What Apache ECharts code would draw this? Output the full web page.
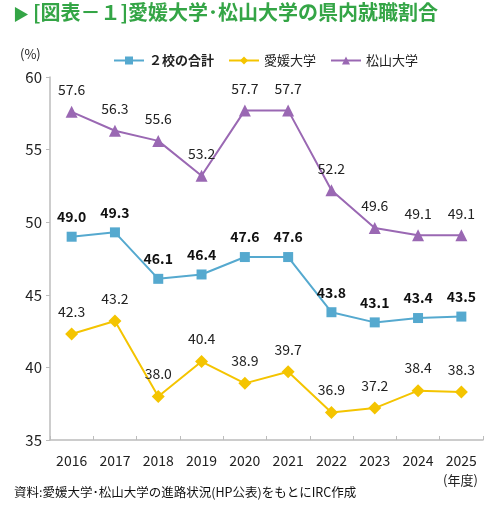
<!DOCTYPE html>
<html>
<head>
<meta charset="utf-8">
<script src="https://cdn.jsdelivr.net/npm/echarts@6/dist/echarts.min.js"></script>
<style>
  html, body { margin: 0; padding: 0; background: #fff; }
  #chart { width: 500px; height: 507px; }
</style>
</head>
<body>
<div id="chart"></div>
<script>
// 年度
var years = ['2016', '2017', '2018', '2019', '2020', '2021', '2022', '2023', '2024', '2025'];
// 県内就職割合 (%)
var totalVals = [49.0, 49.3, 46.1, 46.4, 47.6, 47.6, 43.8, 43.1, 43.4, 43.5];
var ehimeVals = [42.3, 43.2, 38.0, 40.4, 38.9, 39.7, 36.9, 37.2, 38.4, 38.3];
var matsuyamaVals = [57.6, 56.3, 55.6, 53.2, 57.7, 57.7, 52.2, 49.6, 49.1, 49.1];
var seriesNames = ['２校の合計', '愛媛大学', '松山大学'];

var FONT = '"Noto Sans CJK JP", "Noto Sans", sans-serif';
var chart = echarts.init(document.getElementById('chart'));

function fmt(p) { return p.value.toFixed(1); }

var option = {
    animation: false,
    textStyle: { fontFamily: FONT },
    grid: { left: 50, right: 17, top: 77, bottom: 67 },
    legend: {
        top: 49,
        left: 108,
        itemWidth: 30,
        itemHeight: 10,
        itemGap: 14,
        textStyle: { fontFamily: FONT, fontSize: 13, color: '#222' },
        data: [
            { name: seriesNames[0], textStyle: { fontWeight: 'bold' } },
            { name: seriesNames[1] },
            { name: seriesNames[2] }
        ]
    },
    graphic: [
        { type: 'text', left: 13, top: 6, style: { text: '▶', fill: '#34a546', font: '16px ' + FONT } },
        { type: 'text', left: 33, top: 2, style: { text: '[図表－１]愛媛大学･松山大学の県内就職割合', fill: '#34a546', font: 'bold 20px ' + FONT } },
        { type: 'text', left: 20, top: 48, style: { text: '(%)', fill: '#222', font: '13px ' + FONT } },
        { type: 'text', left: 443, top: 474, style: { text: '(年度)', fill: '#222', font: '13px ' + FONT } },
        { type: 'text', left: 14, top: 486, style: { text: '資料:愛媛大学･松山大学の進路状況(HP公表)をもとにIRC作成', fill: '#111', font: '12.5px ' + FONT } }
    ],
    xAxis: {
        type: 'category',
        data: years,
        boundaryGap: true,
        axisLine: { lineStyle: { color: '#bcbcbc', width: 1.5 } },
        axisTick: { show: true, inside: true, length: 4, alignWithLabel: false, lineStyle: { color: '#bcbcbc' } },
        axisLabel: { fontFamily: FONT, fontSize: 14, color: '#222', margin: 14 }
    },
    yAxis: {
        type: 'value',
        min: 35,
        max: 60,
        interval: 5,
        axisLine: { show: true, lineStyle: { color: '#bcbcbc', width: 1.5 } },
        axisTick: { show: true, length: 4, lineStyle: { color: '#bcbcbc' } },
        splitLine: { show: false },
        axisLabel: { fontFamily: FONT, fontSize: 15, color: '#222', margin: 8 }
    },
    series: [
        {
            name: seriesNames[0],
            type: 'line',
            data: totalVals,
            color: '#55a9cf',
            symbol: 'rect',
            symbolSize: 10,
            lineStyle: { width: 2 },
            label: { show: true, position: 'top', distance: 8, formatter: fmt, fontFamily: FONT, fontSize: 14, fontWeight: 'bold', color: '#111' }
        },
        {
            name: seriesNames[1],
            type: 'line',
            data: ehimeVals,
            color: '#f4c400',
            symbol: 'diamond',
            symbolSize: 13,
            lineStyle: { width: 2 },
            label: { show: true, position: 'top', distance: 9, formatter: fmt, fontFamily: FONT, fontSize: 14, color: '#222' }
        },
        {
            name: seriesNames[2],
            type: 'line',
            data: matsuyamaVals,
            color: '#9a68b3',
            symbol: 'triangle',
            symbolSize: 12,
            lineStyle: { width: 2 },
            label: { show: true, position: 'top', distance: 9, formatter: fmt, fontFamily: FONT, fontSize: 14, color: '#222' }
        }
    ]
};

chart.setOption(option);
</script>
</body>
</html>
